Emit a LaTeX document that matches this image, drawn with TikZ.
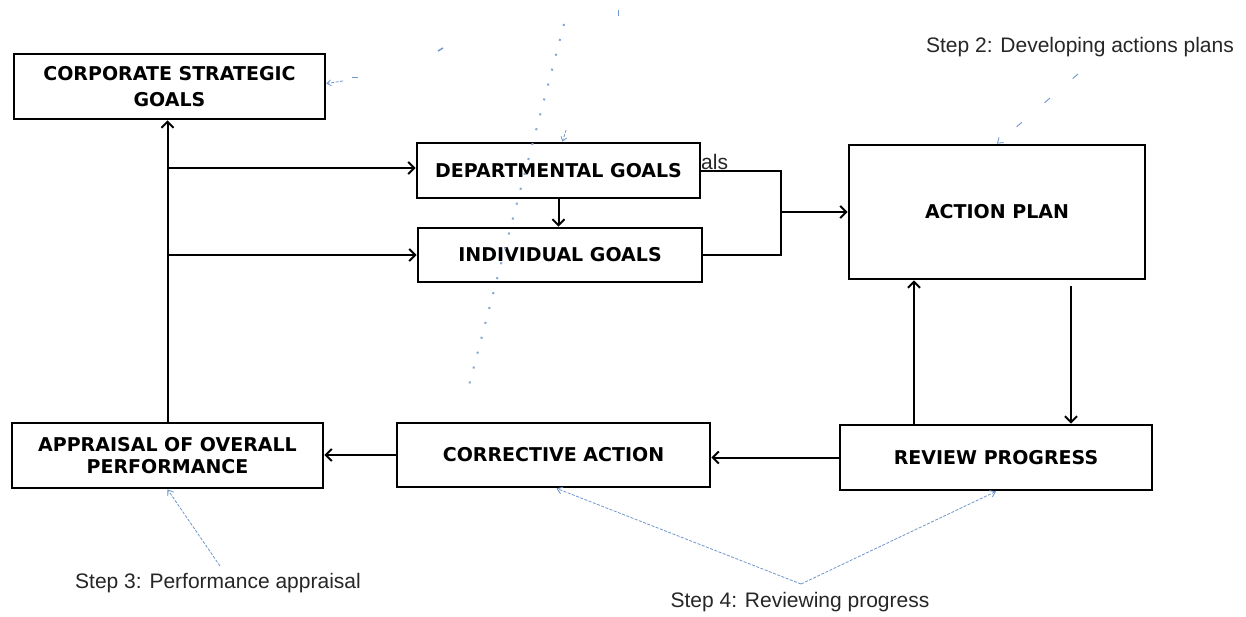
\documentclass[tikz,border=0pt]{standalone}
\usepackage{fontspec}
\setmainfont{Liberation Sans}
\newfontfamily\boxfont{DejaVu Sans}
\usetikzlibrary{arrows.meta}
\definecolor{calloutblue}{RGB}{110,150,205}
\tikzset{
  gbox/.style={draw=black, line width=2.8pt, fill=white, align=center, inner sep=2pt,
    font=\boxfont\bfseries\fontsize{19}{24}\selectfont},
  link/.style={line width=2pt},
  arr/.style={link, -{Straight Barb[length=6pt,width=12pt,line width=2pt]}},
  callout/.style={draw=calloutblue, line width=0.8pt, dash pattern=on 3pt off 1.5pt},
  callarr/.style={callout, -{Straight Barb[length=5pt,width=7pt,line width=0.8pt]}},
  faint/.style={draw=calloutblue, line width=0.9pt, dash pattern=on 7pt off 30pt},
  dots/.style={draw=calloutblue!85, line width=2pt, dash pattern=on 2pt off 13.4pt},
  steplabel/.style={font=\fontsize{21}{24}\selectfont, text=black!85, inner sep=1pt}
}
\begin{document}
\begin{tikzpicture}[x=1pt,y=-1pt]
\fill[white] (0,0) rectangle (1246,616);
\useasboundingbox (0,0) rectangle (1246,616);

% boxes
\node[gbox, minimum width=311pt, minimum height=65pt, font=\boxfont\bfseries\fontsize{19}{26}\selectfont] (csg) at (169.5,86.5) {CORPORATE STRATEGIC\\GOALS};
\node[gbox, minimum width=283pt, minimum height=55pt] (dept) at (558.5,170.5) {DEPARTMENTAL GOALS};
\node[gbox, minimum width=284pt, minimum height=54pt] (ind) at (560,255) {INDIVIDUAL GOALS};
\node[gbox, minimum width=296pt, minimum height=134pt] (action) at (997,212) {ACTION PLAN};
\node[gbox, minimum width=311pt, minimum height=65pt, font=\boxfont\bfseries\fontsize{19}{22.5}\selectfont] (appr) at (167.5,455.5) {APPRAISAL OF OVERALL\\PERFORMANCE};
\node[gbox, minimum width=313pt, minimum height=64pt] (corr) at (553.5,455) {CORRECTIVE ACTION};
\node[gbox, minimum width=312pt, minimum height=65pt] (rev) at (996,457.5) {REVIEW PROGRESS};

% labels
\node[steplabel] (s2) at (1080,47) {Step 2: Developing actions plans};
\node[steplabel] (s3) at (218,583) {Step 3: Performance appraisal};
\node[steplabel] (s4) at (800,602) {Step 4: Reviewing progress};
\node[steplabel, anchor=base west] (als) at (700,169) {als};

% connectors
\coordinate (b1) at (169,168);
\coordinate (b2) at (169,255);
\coordinate (m) at (781,212);
\draw[arr] (appr.north) -- (appr.north |- csg.south);
\draw[arr] (b1) -- (b1 -| dept.west);
\draw[arr] (b2) -- (b2 -| ind.west);
\draw[arr] (dept.south) -- (dept.south |- ind.north);
\draw[link] (dept.east) -| (m);
\draw[link] (ind.east) -| (m);
\draw[arr] (m) -- (m -| action.west);
\draw[arr] ([xshift=-82pt]rev.north) -- ([xshift=-83pt]action.south);
\draw[arr] ([xshift=74pt,yshift=-6pt]action.south) -- ([xshift=75pt]rev.north);
\draw[arr] (rev.west) -- (rev.west -| corr.east);
\draw[arr] (corr.west) -- (corr.west -| appr.east);

% callouts
\coordinate (c2) at (1078,74);
\coordinate (c3) at (220,566);
\coordinate (c4) at (801,584);
\draw[faint, -{Straight Barb[length=5pt,width=7pt,line width=0.8pt]}] (c2) -- (action.north);
\draw[callarr] (c3) -- (appr.south);
\draw[callarr] (c4) -- ([xshift=3pt]corr.south);
\draw[callarr] (c4) -- (rev.south);

% faint traces
\coordinate (d1) at (564,24);
\coordinate (d2) at (467,393);
\draw[dots] (d1) -- (d2);
\coordinate (e1) at (343,81);
\draw[callout, -{Straight Barb[length=4pt,width=6pt,line width=0.8pt]}] (e1) -- ([yshift=3pt]csg.east);
\coordinate (e2) at (352,77);
\coordinate (e3) at (358,77);
\draw[callout, dash pattern={}] (e2) -- (e3);
\coordinate (e4) at (618,10);
\coordinate (e5) at (618,16);
\draw[callout, dash pattern={}] (e4) -- (e5);
\coordinate (e6) at (438,51);
\coordinate (e7) at (443,48);
\draw[callout, dash pattern={}, line width=1.4pt] (e6) -- (e7);
\coordinate (e8) at (566,130);
\draw[callout, -{Straight Barb[length=4pt,width=6pt,line width=0.8pt]}] (e8) -- ([xshift=4pt]dept.north);
\end{tikzpicture}
\end{document}
